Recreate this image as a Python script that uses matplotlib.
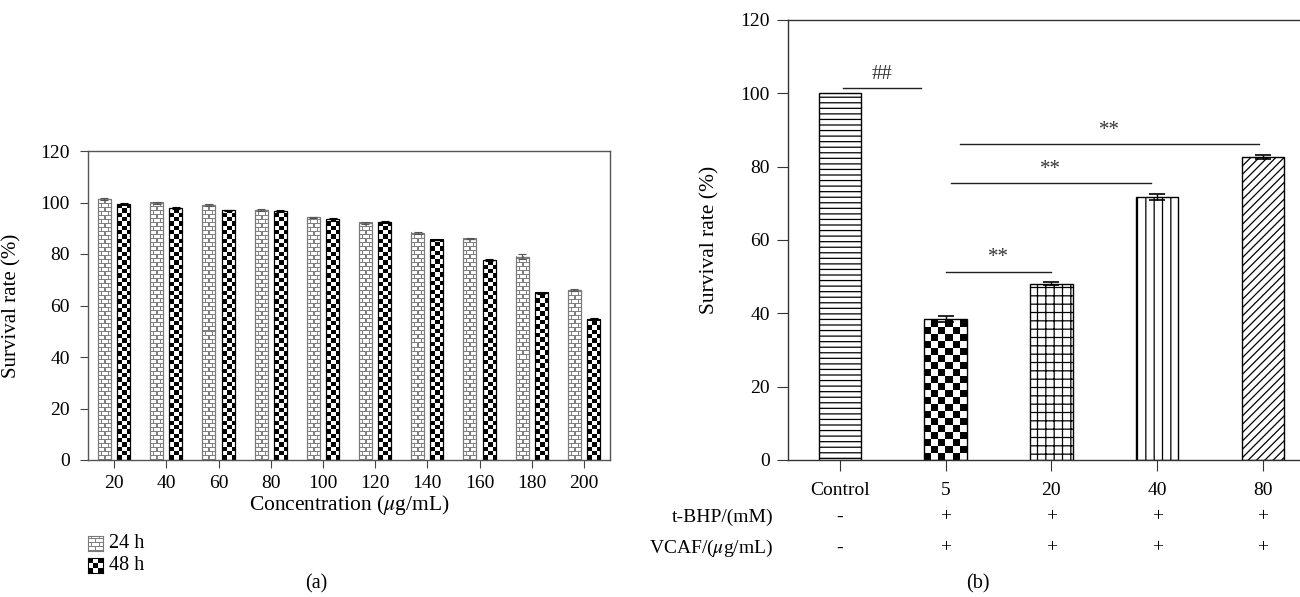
import numpy as np
import matplotlib
matplotlib.use('Agg')
import matplotlib.pyplot as plt

plt.rcParams['font.family'] = ['Liberation Serif', 'DejaVu Serif']
plt.rcParams['mathtext.fontset'] = 'stix'
plt.rcParams['hatch.linewidth'] = 0.9

# panel (a): survival vs concentration
conc_labels = ['20', '40', '60', '80', '100', '120', '140', '160', '180', '200']
surv_24h = [101.3, 99.9, 99.2, 97.0, 94.2, 92.1, 88.2, 86.0, 79.0, 66.0]
err_24h = [0.4, 0.3, 0.4, 0.3, 0.3, 0.4, 0.3, 0.3, 1.0, 0.5]
surv_48h = [99.4, 97.8, 96.9, 96.6, 93.4, 92.4, 85.6, 77.6, 64.9, 54.7]
err_48h = [0.3, 0.3, 0.3, 0.3, 0.4, 0.4, 0.3, 0.5, 0.4, 0.3]

# panel (b): t-BHP + VCAF
groups = ['Control', '5', '20', '40', '80']
surv_b = [100.0, 38.4, 48.1, 71.7, 82.7]
err_b = [0.0, 0.8, 0.4, 0.9, 0.6]
tbhp = ['-', '+', '+', '+', '+']
vcaf = ['-', '+', '+', '+', '+']
hatches_b = ['---', None, '++', '||', '////']
# significance bars: (start, end, height, label)
sig_marks = [(0.03, 0.77, 101.4, '##'),
             (1.0, 2.0, 51.4, '**'),
             (1.05, 2.94, 75.5, '**'),
             (1.14, 3.96, 86.2, '**')]

W, H = 1300, 597
fig = plt.figure(figsize=(W / 100, H / 100), dpi=100)


def px_axes(x0, y_top, x1, y_bot):
    return fig.add_axes([x0 / W, 1 - y_bot / H, (x1 - x0) / W, (y_bot - y_top) / H])


def checker(w, h, ncol):
    c = w / ncol
    i = np.arange(h)[:, None]
    j = np.arange(w)[None, :]
    return (np.floor(i / c) + np.floor(j / c)) % 2


def bricks(w, h, row=4, tone=0.5):
    arr = np.ones((h, w))
    arr[np.arange(h) % row == 0, :] = tone
    bw = w / 2
    for r in range(h):
        off = 0 if (r // row) % 2 == 0 else bw / 2
        for xj in np.arange(off, w, bw):
            arr[r, min(int(xj), w - 1)] = tone
    return arr


def fill_texture(ax, rect, kind, ncol=3):
    bb = rect.get_window_extent()
    w = max(int(round(bb.width)), 1)
    h = max(int(round(bb.height)), 1)
    arr = checker(w, h, ncol) if kind == 'checker' else bricks(w, h)
    x0 = rect.get_x()
    y0 = rect.get_y()
    ax.imshow(arr, extent=(x0, x0 + rect.get_width(), y0, y0 + rect.get_height()),
              origin='lower', cmap='gray', vmin=0, vmax=1, interpolation='nearest',
              aspect='auto', zorder=1)


# ---------- panel (a) ----------
axa = px_axes(88, 151, 610, 460)
xa = np.arange(len(conc_labels))
axa.set_xlim(-0.5, len(conc_labels) - 0.5)
axa.set_ylim(0, 120)
bw = 0.25
b24 = axa.bar(xa - 0.185, surv_24h, bw, facecolor='none', edgecolor='#7a7a7a',
              linewidth=0.9, zorder=2)
b48 = axa.bar(xa + 0.185, surv_48h, bw, facecolor='none', edgecolor='black',
              linewidth=0.9, zorder=2)
axa.errorbar(xa - 0.185, surv_24h, yerr=err_24h, fmt='none', ecolor='#555555',
             elinewidth=0.8, capsize=3, capthick=0.8, zorder=3)
axa.errorbar(xa + 0.185, surv_48h, yerr=err_48h, fmt='none', ecolor='black',
             elinewidth=0.8, capsize=3, capthick=0.8, zorder=3)
for r in b24:
    fill_texture(axa, r, 'bricks')
for r in b48:
    fill_texture(axa, r, 'checker', 3)
axa.set_xlim(-0.5, len(conc_labels) - 0.5)
axa.set_ylim(0, 120)
axa.set_xticks(xa)
axa.set_xticklabels(conc_labels)
axa.set_yticks(range(0, 121, 20))
axa.tick_params(axis='both', direction='out', labelsize=14, color='#444444')
axa.tick_params(axis='x', length=6, pad=5)
axa.tick_params(axis='y', length=6, pad=7)
for s in axa.spines.values():
    s.set_color('#555555')
    s.set_linewidth(1.0)
axa.set_ylabel('Survival rate (%)', fontsize=15)
axa.yaxis.set_label_coords(-0.128, 0.5)
axa.set_xlabel(r'Concentration ($\mu$g/mL)', fontsize=15.5)
axa.xaxis.set_label_coords(0.5, -0.108)

# legend swatches
for (label, kind, edge), ytop in zip([('24 h', 'bricks', '#7a7a7a'),
                                      ('48 h', 'checker', 'black')], [536, 558]):
    sw = px_axes(88, ytop, 103, ytop + 15)
    arr = bricks(15, 15) if kind == 'bricks' else checker(15, 15, 3)
    sw.imshow(arr, cmap='gray', vmin=0, vmax=1, interpolation='nearest',
              aspect='auto', origin='lower')
    sw.set_xticks([])
    sw.set_yticks([])
    for s in sw.spines.values():
        s.set_color(edge)
    fig.text(109 / W, 1 - (ytop + 7.5) / H, label, fontsize=14.5, va='center', ha='left')

fig.text(316 / W, 1 - 584 / H, '(a)', fontsize=14.5, ha='center', va='center')

# ---------- panel (b) ----------
axb = px_axes(788, 20, 1300, 460)
xb = np.arange(len(groups))
axb.set_xlim(-0.49, 4.35)
axb.set_ylim(0, 120)
bars = axb.bar(xb, surv_b, 0.4, facecolor='none', edgecolor='black', linewidth=1.0,
               zorder=2)
for r, h in zip(bars, hatches_b):
    if h:
        r.set_hatch(h)
fill_texture(axb, bars[1], 'checker', 6)
axb.errorbar(xb[1:], surv_b[1:], yerr=err_b[1:], fmt='none', ecolor='black',
             elinewidth=1.0, capsize=6, capthick=1.2, zorder=3)
for x0, x1, yv, lab in sig_marks:
    axb.plot([x0, x1], [yv, yv], color='#222222', linewidth=1.0, zorder=3)
    axb.text((x0 + x1) / 2, yv + 1.2, lab, ha='center', va='bottom', fontsize=15,
             color='#333333')
axb.set_xlim(-0.49, 4.35)
axb.set_ylim(0, 120)
axb.set_xticks(xb)
axb.set_xticklabels(groups)
axb.set_yticks(range(0, 121, 20))
axb.tick_params(axis='both', direction='out', labelsize=14, color='#333333')
axb.tick_params(axis='x', length=8, pad=8)
axb.tick_params(axis='y', length=8, pad=5)
axb.spines['right'].set_visible(False)
for s in ['left', 'bottom', 'top']:
    axb.spines[s].set_color('#333333')
    axb.spines[s].set_linewidth(1.0)
axb.set_ylabel('Survival rate (%)', fontsize=15.5)
axb.yaxis.set_label_coords(-0.133, 0.5)

row_labels = ['t-BHP/(mM)', r'VCAF/($\mu$g/mL)']
for row, signs, ypx in zip(row_labels, [tbhp, vcaf], [517, 548]):
    fig.text(773 / W, 1 - ypx / H, row, fontsize=14, ha='right', va='center')
    for xi, sg in zip(xb, signs):
        xd = axb.transData.transform((xi, 0))[0]
        fig.text(xd / W, 1 - ypx / H, sg, fontsize=14, ha='center', va='center')

fig.text(978 / W, 1 - 584 / H, '(b)', fontsize=14.5, ha='center', va='center')

fig.savefig('out.png', dpi=100)
